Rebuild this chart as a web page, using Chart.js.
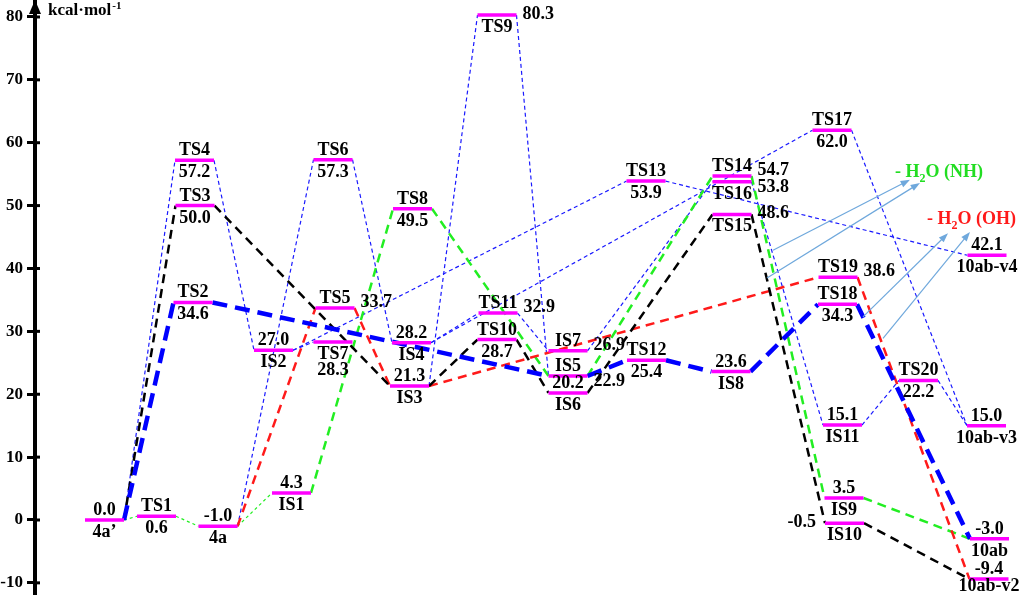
<!DOCTYPE html>
<html>
<head>
<meta charset="utf-8">
<script src="https://cdn.jsdelivr.net/npm/chart.js@4.4.0/dist/chart.umd.min.js"></script>
<style>
  html, body { margin: 0; padding: 0; background: #fff; }
  #wrap { width: 1024px; height: 595px; position: relative; }
</style>
</head>
<body>
<div id="wrap"><canvas id="energyChart"></canvas></div>
<script>
// stationary points along the reaction coordinate
var levelNames  = ["4a\u2019", "TS1", "4a", "TS2", "TS3", "TS4", "IS2", "IS1", "TS5", "TS6", "TS7",
                   "IS3", "IS4", "TS8", "TS9", "TS10", "TS11", "IS5", "IS6", "IS7", "TS12", "TS13",
                   "IS8", "TS14", "TS16", "TS15", "TS17", "TS19", "TS18", "IS11", "IS9", "IS10",
                   "TS20", "10ab-v4", "10ab-v3", "10ab", "10ab-v2"];
var levelCoord  = [6.95, 12.15, 18.3, 15.8, 16.0, 15.95, 23.85, 25.65, 30.0, 29.8, 29.8,
                   37.45, 37.65, 37.75, 46.2, 46.2, 46.3, 53.3, 53.3, 53.3, 61.15, 61.1,
                   69.6, 69.7, 69.7, 69.7, 79.7, 80.3, 80.25, 80.75, 80.9, 80.95,
                   88.35, 95.2, 95.15, 95.45, 95.4];
var levelEnergy = [0.0, 0.6, -1.0, 34.6, 50.0, 57.2, 27.0, 4.3, 33.7, 57.3, 28.3,
                   21.3, 28.2, 49.5, 80.3, 28.7, 32.9, 22.9, 20.2, 26.9, 25.4, 53.9,
                   23.6, 54.7, 53.8, 48.6, 62.0, 38.6, 34.3, 15.1, 3.5, -0.5,
                   22.2, 42.1, 15.0, -3.0, -9.4];

// where the name / the energy sits next to each level
var nameSide  = ["below", "above", "below", "above", "above", "above", "below", "below", "above", "above", "below",
                 "below", "below", "above", "below", "above", "above", "above", "below", "above", "above", "above",
                 "below", "above", "below", "below", "above", "above", "above", "below", "below", "below",
                 "above", "below", "below", "below", "below"];
var valueSide = ["above", "below", "above", "below", "below", "below", "above", "above", "rightUp", "below", "below2",
                 "above", "above", "below", "right", "below", "rightUp", "rightDown", "above", "rightUp", "below", "below",
                 "above", "rightUp", "rightDown", "right", "below", "rightUp", "below", "above", "above", "left",
                 "below", "above", "above", "above", "above"];

// pathways
var pathThinGreen = ["4a\u2019", "TS1", "4a", "IS1"];
var pathGreen     = ["IS1", "TS8", "IS5", "TS14", "IS9", "10ab"];
var pathBlack     = ["4a\u2019", "TS3", "IS3", "TS10", "IS6", "TS15", "IS10", "10ab-v2"];
var pathRed       = ["4a", "TS5", "IS3", "TS19", "10ab-v2"];
var pathBlueThick = ["4a\u2019", "TS2", "IS5", "TS12", "IS8", "TS18", "10ab"];
var pathBlueA     = ["4a\u2019", "TS4", "IS2", "TS13", "10ab-v4"];
var pathBlueB     = ["IS2", "TS7"];
var pathBlueC     = ["4a", "TS6", "IS4", "TS11", "IS7", "TS16", "IS11", "TS20", "10ab-v3"];
var pathBlueD     = ["IS4", "TS17", "10ab-v3"];
var pathBlueE     = ["IS3", "TS9", "IS5"];

// water-loss arrows [x0, y0, x1, y1]
var arrowsNH = [[73.8, 42.9, 87.5, 54.1], [73.2, 38.5, 88.5, 53.6]];
var arrowsOH = [[82.8, 32.3, 91.3, 45.6], [84.8, 28.9, 93.5, 45.8]];

var yTicks = [-10, 0, 10, 20, 30, 40, 50, 60, 70, 80];

var BAR_HALF = 1.95;
var SERIF = '"Liberation Serif", "Times New Roman", serif';
var FONT = 'bold 18px ' + SERIF;

function lvl(n) { return levelNames.indexOf(n); }

function pathData(path) {
  var pts = [];
  for (var i = 0; i < path.length - 1; i++) {
    var a = lvl(path[i]), b = lvl(path[i + 1]);
    pts.push({x: levelCoord[a] + BAR_HALF, y: levelEnergy[a]});
    pts.push({x: levelCoord[b] - BAR_HALF, y: levelEnergy[b]});
    pts.push({x: levelCoord[b], y: null});
  }
  return pts;
}

function levelData() {
  var pts = [];
  for (var i = 0; i < levelNames.length; i++) {
    pts.push({x: levelCoord[i] - BAR_HALF, y: levelEnergy[i]});
    pts.push({x: levelCoord[i] + BAR_HALF, y: levelEnergy[i]});
    pts.push({x: levelCoord[i], y: null});
  }
  return pts;
}

function ds(data, color, width, dash) {
  return { data: data, borderColor: color, borderWidth: width, borderDash: dash,
           pointRadius: 0, spanGaps: false, fill: false, tension: 0 };
}

var decor = {
  id: 'decor',
  afterDraw: function(chart) {
    var c = chart.ctx, xs = chart.scales.x, ys = chart.scales.y;
    var ax = chart.chartArea.left;
    var bottomLimit = chart.height - 4;
    c.save();
    // tick stubs right of the axis
    c.strokeStyle = '#000';
    c.lineWidth = 3;
    yTicks.forEach(function(v) {
      var y = ys.getPixelForValue(v);
      c.beginPath(); c.moveTo(ax, y); c.lineTo(ax + 5, y); c.stroke();
    });
    // axis arrow head
    c.fillStyle = '#000';
    c.beginPath(); c.moveTo(ax, 0); c.lineTo(ax - 6, 14); c.lineTo(ax + 6, 14); c.closePath(); c.fill();
    // unit
    c.font = 'bold 17px ' + SERIF;
    c.textAlign = 'left'; c.textBaseline = 'alphabetic';
    c.fillText('kcal\u00b7mol', 48, 15);
    var w = c.measureText('kcal\u00b7mol').width;
    c.font = 'bold 11px ' + SERIF;
    c.fillText('-1', 48 + w + 1, 9);

    // arrows
    c.strokeStyle = '#6fa8dc'; c.fillStyle = '#6fa8dc'; c.lineWidth = 1.2;
    arrowsNH.concat(arrowsOH).forEach(function(a) {
      var x0 = xs.getPixelForValue(a[0]), y0 = ys.getPixelForValue(a[1]);
      var x1 = xs.getPixelForValue(a[2]), y1 = ys.getPixelForValue(a[3]);
      var ang = Math.atan2(y1 - y0, x1 - x0);
      c.beginPath(); c.moveTo(x0, y0); c.lineTo(x1 - 6 * Math.cos(ang), y1 - 6 * Math.sin(ang)); c.stroke();
      c.beginPath();
      c.moveTo(x1, y1);
      c.lineTo(x1 - 10 * Math.cos(ang - 0.35), y1 - 10 * Math.sin(ang - 0.35));
      c.lineTo(x1 - 10 * Math.cos(ang + 0.35), y1 - 10 * Math.sin(ang + 0.35));
      c.closePath(); c.fill();
    });

    // water-loss captions
    function h2o(label, color, x, y) {
      c.fillStyle = color;
      c.font = FONT;
      c.textAlign = 'left';
      c.fillText('- H', x, y);
      var px = x + c.measureText('- H').width;
      c.font = 'bold 12px ' + SERIF;
      c.fillText('2', px, y + 5);
      px += c.measureText('2').width;
      c.font = FONT;
      c.fillText('O (' + label + ')', px, y);
    }
    h2o('NH', '#22dd22', xs.getPixelForValue(86.0), ys.getPixelForValue(54.5));
    h2o('OH', '#ff1a1a', xs.getPixelForValue(89.2), ys.getPixelForValue(47.0));

    // level labels
    c.fillStyle = '#000';
    c.font = FONT;
    for (var i = 0; i < levelNames.length; i++) {
      var cx = xs.getPixelForValue(levelCoord[i]);
      var py = ys.getPixelForValue(levelEnergy[i]);
      var rx = xs.getPixelForValue(levelCoord[i] + BAR_HALF);
      var lx = xs.getPixelForValue(levelCoord[i] - BAR_HALF);
      var val = levelEnergy[i].toFixed(1);
      place(levelNames[i], nameSide[i]);
      place(val, valueSide[i]);
      function place(txt, side) {
        c.textBaseline = 'alphabetic';
        if (side === 'above') { c.textAlign = 'center'; c.fillText(txt, cx, py - 5); }
        else if (side === 'below') { c.textAlign = 'center'; c.fillText(txt, cx, Math.min(py + 17, bottomLimit)); }
        else if (side === 'below2') { c.textAlign = 'center'; c.fillText(txt, cx, py + 33); }
        else if (side === 'right') { c.textAlign = 'left'; c.fillText(txt, rx + 6, py + 4); }
        else if (side === 'rightUp') { c.textAlign = 'left'; c.fillText(txt, rx + 6, py - 1); }
        else if (side === 'rightDown') { c.textAlign = 'left'; c.fillText(txt, rx + 6, py + 10); }
        else if (side === 'left') { c.textAlign = 'right'; c.fillText(txt, lx - 9, py + 4); }
      }
    }
    c.restore();
  }
};

var chart = new Chart(document.getElementById('energyChart'), {
  type: 'line',
  data: {
    datasets: [
      ds(levelData(), '#ff00ff', 3.5, []),
      ds(pathData(pathBlueThick), '#0000ff', 4.5, [15, 8]),
      ds(pathData(pathBlack), '#000000', 2.5, [9, 6]),
      ds(pathData(pathRed), '#ff1a1a', 2.5, [9, 6]),
      ds(pathData(pathGreen), '#22ee22', 2.5, [9, 6]),
      ds(pathData(pathThinGreen), '#22ee22', 1.2, [3, 3]),
      ds(pathData(pathBlueA), '#1a1aff', 1.2, [4, 3]),
      ds(pathData(pathBlueB), '#1a1aff', 1.2, [4, 3]),
      ds(pathData(pathBlueC), '#1a1aff', 1.2, [4, 3]),
      ds(pathData(pathBlueD), '#1a1aff', 1.2, [4, 3]),
      ds(pathData(pathBlueE), '#1a1aff', 1.2, [4, 3])
    ]
  },
  options: {
    responsive: true,
    maintainAspectRatio: false,
    animation: false,
    layout: { padding: 0 },
    plugins: { legend: { display: false }, tooltip: { enabled: false } },
    scales: {
      x: { type: 'linear', display: false, min: 0, max: 98.9 },
      y: {
        type: 'linear', min: -11.93, max: 82.7,
        afterFit: function(s) { s.width = 35; s.paddingTop = 0; s.paddingBottom = 0; },
        afterBuildTicks: function(s) { s.ticks = yTicks.map(function(v) { return {value: v}; }); },
        ticks: { padding: 4, color: '#000', font: { family: SERIF, size: 17, weight: 'bold' } },
        grid: { drawOnChartArea: false, drawTicks: true, tickLength: 8, tickWidth: 3, tickColor: '#000' },
        border: { display: true, width: 4, color: '#000' }
      }
    }
  },
  plugins: [decor]
});
</script>
</body>
</html>
